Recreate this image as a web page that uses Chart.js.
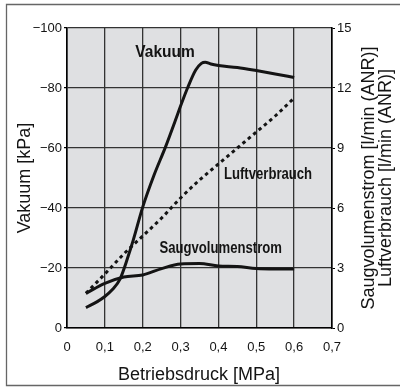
<!DOCTYPE html>
<html>
<head>
<meta charset="utf-8">
<script src="https://cdn.jsdelivr.net/npm/chart.js@4.4.1/dist/chart.umd.min.js"></script>
<style>
  html, body { margin: 0; padding: 0; background: #fff; }
  canvas { display: block; }
</style>
</head>
<body>
<canvas id="chart" width="400" height="387"></canvas>
<script>
// Vakuum [kPa] over Betriebsdruck [MPa]
const druckVakuum = [0.05, 0.08, 0.10, 0.12, 0.14, 0.16, 0.175, 0.20, 0.23, 0.26, 0.29, 0.30, 0.32, 0.34, 0.355, 0.365, 0.38, 0.40, 0.45, 0.50, 0.55, 0.60];
const vakuum = [-6.8, -8.8, -10.5, -12.8, -16.3, -23.3, -29.3, -40.3, -51, -60.3, -70.5, -74, -80.5, -86, -88.2, -88.6, -88, -87.5, -86.8, -85.8, -84.7, -83.5];

// Saugvolumenstrom / Luftverbrauch [l/min (ANR)]
const druckVolumen = [0.05, 0.10, 0.15, 0.20, 0.25, 0.30, 0.35, 0.40, 0.45, 0.50, 0.55, 0.60];
const saugvolumenstrom = [1.73, 2.23, 2.55, 2.65, 2.97, 3.2, 3.22, 3.1, 3.07, 2.97, 2.95, 2.95];
const luftverbrauch = [1.73, 2.7, 3.7, 4.6, 5.5, 6.5, 7.4, 8.2, 9.0, 9.8, 10.6, 11.5];

// ticks
const druckTicks = [0, 0.1, 0.2, 0.3, 0.4, 0.5, 0.6, 0.7];
const vakuumTicks = [0, -20, -40, -60, -80, -100];
const volumenTicks = [0, 3, 6, 9, 12, 15];

// texts
const xTitle = 'Betriebsdruck [MPa]';
const yTitle = 'Vakuum [kPa]';
const y1Title = ['Saugvolumenstrom [l/min (ANR)]', 'Luftverbrauch [l/min (ANR)]'];
const curveLabels = [
  { text: 'Vakuum', x: 0.259, y: -91.7, axis: 'y' },
  { text: 'Luftverbrauch', x: 0.531, y: 7.65, axis: 'y1' },
  { text: 'Saugvolumenstrom', x: 0.406, y: 3.95, axis: 'y1' }
];
// horizontal squeeze of the bold labels (the original uses a condensed face)
const labelSqueeze = { 'Vakuum': 0.97, 'Luftverbrauch': 0.82, 'Saugvolumenstrom': 0.82 };

const sans = "'Liberation Sans', Arial, sans-serif";
const ink = '#141414';

Chart.defaults.font.family = sans;
Chart.defaults.color = ink;

const frame = {
  id: 'frame',
  beforeDraw(chart) {
    const { ctx, chartArea: a } = chart;
    ctx.save();
    ctx.fillStyle = '#dfe0e2';
    ctx.fillRect(a.left, a.top, a.right - a.left, a.bottom - a.top);
    ctx.strokeStyle = '#666';
    ctx.lineWidth = 1.3;
    ctx.beginPath();
    ctx.moveTo(402, 4.5);
    ctx.lineTo(6.5, 4.5);
    ctx.lineTo(6.5, 385.5);
    ctx.lineTo(402, 385.5);
    ctx.stroke();
    ctx.restore();
  },
  afterDraw(chart) {
    const { ctx, chartArea: a, scales } = chart;
    const midY = (a.top + a.bottom) / 2;
    ctx.save();
    ctx.fillStyle = ink;
    ctx.font = '18px ' + sans;
    ctx.textAlign = 'center';
    ctx.textBaseline = 'alphabetic';
    ctx.fillText(xTitle, 199, 380);

    ctx.textBaseline = 'middle';
    ctx.save();
    ctx.translate(25, midY);
    ctx.rotate(-Math.PI / 2);
    ctx.fillText(yTitle, 0, 0);
    ctx.restore();

    ctx.save();
    ctx.translate(377.5, midY);
    ctx.rotate(-Math.PI / 2);
    ctx.fillText(y1Title[0], 0, -8.5);
    ctx.fillText(y1Title[1], 0, 8.5);
    ctx.restore();

    ctx.font = 'bold 16px ' + sans;
    curveLabels.forEach(l => {
      const px = scales.x.getPixelForValue(l.x);
      const py = scales[l.axis].getPixelForValue(l.y);
      ctx.save();
      ctx.translate(px, py);
      ctx.scale(labelSqueeze[l.text] || 1, 1);
      ctx.fillText(l.text, 0, 0);
      ctx.restore();
    });
    ctx.restore();
  }
};

const fixedTicks = list => scale => { scale.ticks = list.map(v => ({ value: v })); };

new Chart(document.getElementById('chart'), {
  type: 'line',
  data: {
    datasets: [
      {
        label: 'Vakuum',
        data: druckVakuum.map((x, i) => ({ x, y: vakuum[i] })),
        yAxisID: 'y',
        borderColor: ink,
        borderWidth: 3,
        cubicInterpolationMode: 'monotone',
        pointRadius: 0
      },
      {
        label: 'Saugvolumenstrom',
        data: druckVolumen.map((x, i) => ({ x, y: saugvolumenstrom[i] })),
        yAxisID: 'y1',
        borderColor: ink,
        borderWidth: 3,
        cubicInterpolationMode: 'monotone',
        pointRadius: 0
      },
      {
        label: 'Luftverbrauch',
        data: druckVolumen.map((x, i) => ({ x, y: luftverbrauch[i] })),
        yAxisID: 'y1',
        borderColor: ink,
        borderWidth: 3,
        borderDash: [3.5, 3.5],
        cubicInterpolationMode: 'monotone',
        pointRadius: 0
      }
    ]
  },
  options: {
    responsive: false,
    animation: false,
    layout: { padding: { top: 28, left: 0, right: 0, bottom: 0 } },
    plugins: { legend: { display: false }, tooltip: { enabled: false } },
    scales: {
      x: {
        type: 'linear',
        min: 0,
        max: 0.7,
        afterBuildTicks: fixedTicks(druckTicks),
        afterFit: s => { s.height = 59; },
        grid: { color: '#333', lineWidth: 1.3, drawTicks: false },
        border: { color: '#000', width: 1.6 },
        ticks: {
          padding: 12,
          font: { size: 13 },
          callback: v => v === 0 ? '0' : v.toFixed(1).replace('.', ',')
        }
      },
      y: {
        type: 'linear',
        position: 'left',
        min: -100,
        max: 0,
        reverse: true,
        afterBuildTicks: fixedTicks(vakuumTicks),
        afterFit: s => { s.width = 67; },
        grid: { color: '#333', lineWidth: 1.3, tickLength: 3, tickColor: '#000' },
        border: { color: '#000', width: 1.6 },
        ticks: {
          padding: 2,
          font: { size: 13 },
          callback: v => v === 0 ? '0' : '\u2212' + Math.abs(v)
        }
      },
      y1: {
        type: 'linear',
        position: 'right',
        min: 0,
        max: 15,
        afterBuildTicks: fixedTicks(volumenTicks),
        afterFit: s => { s.width = 68; },
        grid: { drawOnChartArea: false, tickLength: 3, tickColor: '#000' },
        border: { color: '#000', width: 1.6 },
        ticks: { padding: 2, font: { size: 13 } }
      }
    }
  },
  plugins: [frame]
});
</script>
</body>
</html>
